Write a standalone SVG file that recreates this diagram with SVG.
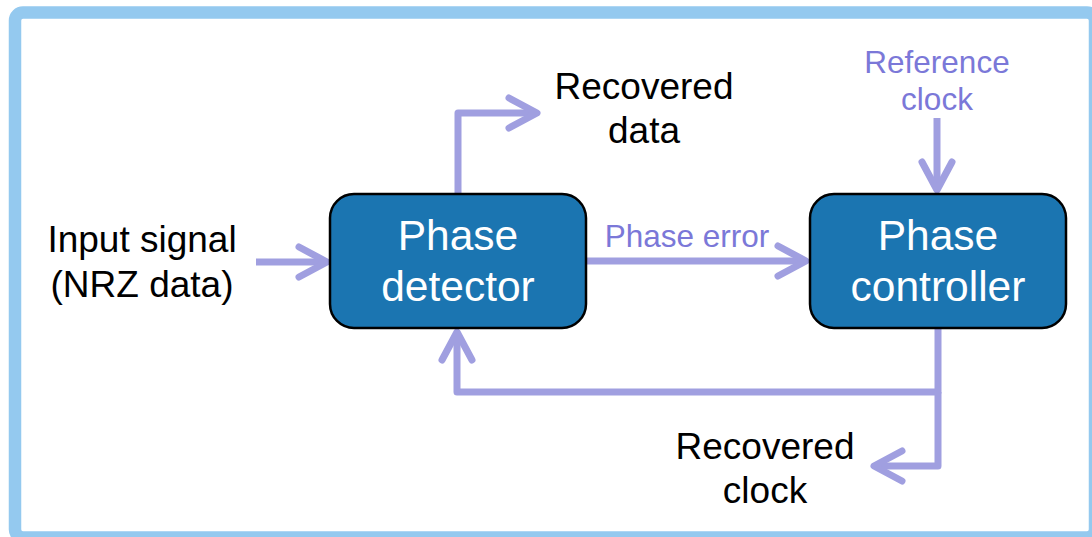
<svg xmlns="http://www.w3.org/2000/svg" width="1092" height="537" viewBox="0 0 1092 537">
  <style>
    .frame { fill: #ffffff; stroke: #94C9EF; stroke-width: 12.5; }
    .box { fill: #1B75B1; stroke: #000000; stroke-width: 2.5; }
    .boxtxt { font-family: "Liberation Sans", Arial, sans-serif; font-size: 42.5px; fill: #ffffff; text-anchor: middle; }
    .lbl { font-family: "Liberation Sans", Arial, sans-serif; font-size: 37px; fill: #000000; text-anchor: middle; }
    .plbl { font-family: "Liberation Sans", Arial, sans-serif; font-size: 31.5px; fill: #7B78D8; text-anchor: middle; }
    .conn { fill: none; stroke: #A09FE0; stroke-width: 7; stroke-linejoin: round; stroke-linecap: butt; }
    .head { fill: none; stroke: #A09FE0; stroke-width: 7; stroke-linejoin: round; stroke-linecap: round; }
  </style>
  <defs>
    <marker id="arrow" markerUnits="userSpaceOnUse" viewBox="-40 -25 50 50" markerWidth="50" markerHeight="50" refX="0" refY="0" orient="auto">
      <path class="head" d="M -28 -15 L 0 0 L -28 15"/>
    </marker>
  </defs>
  <rect class="frame" x="15" y="12.5" width="1080" height="525" rx="8"/>
  <g id="connectors">
    <path class="conn" d="M 256 262 L 327 262" marker-end="url(#arrow)"/>
    <path class="conn" d="M 458 193 L 458 113 L 537 113" marker-end="url(#arrow)"/>
    <path class="conn" d="M 587 261 L 806 261" marker-end="url(#arrow)"/>
    <path class="conn" d="M 937 118 L 937 190" marker-end="url(#arrow)"/>
    <path class="conn" d="M 938 328 L 938 392 L 457 392 L 457 332" marker-end="url(#arrow)"/>
    <path class="conn" d="M 938 392 L 938 466 L 874 466" marker-end="url(#arrow)"/>
  </g>
  <g id="phase-detector">
    <rect class="box" x="330" y="194" width="256" height="134" rx="24"/>
    <text class="boxtxt" x="458" y="250">Phase</text>
    <text class="boxtxt" x="458" y="301">detector</text>
  </g>
  <g id="phase-controller">
    <rect class="box" x="810" y="194" width="256" height="134" rx="24"/>
    <text class="boxtxt" x="938" y="250">Phase</text>
    <text class="boxtxt" x="938" y="301">controller</text>
  </g>
  <g id="input-signal">
    <text class="lbl" x="142" y="252">Input signal</text>
    <text class="lbl" x="142" y="297">(NRZ data)</text>
  </g>
  <g id="recovered-data">
    <text class="lbl" x="644" y="99">Recovered</text>
    <text class="lbl" x="644" y="143">data</text>
  </g>
  <g id="recovered-clock">
    <text class="lbl" x="765" y="459">Recovered</text>
    <text class="lbl" x="765" y="503">clock</text>
  </g>
  <g id="reference-clock">
    <text class="plbl" x="937" y="73">Reference</text>
    <text class="plbl" x="937" y="110">clock</text>
  </g>
  <g id="phase-error-label">
    <text class="plbl" x="687" y="247">Phase error</text>
  </g>
</svg>
